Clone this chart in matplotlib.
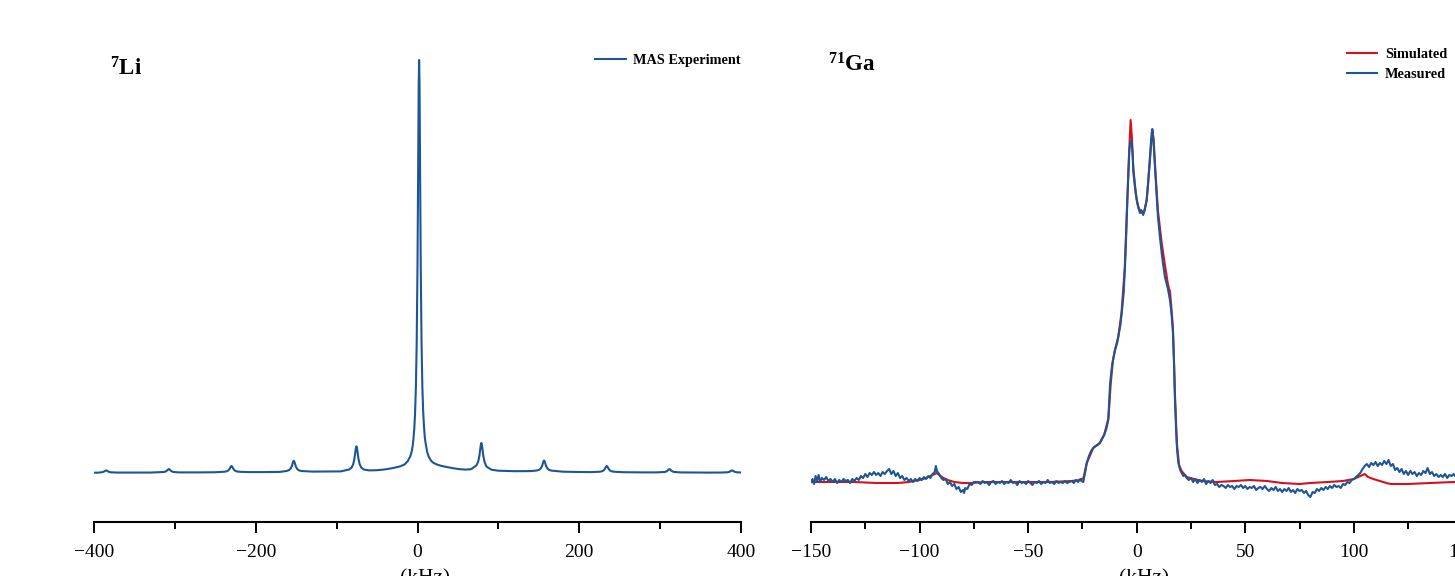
import matplotlib
matplotlib.use('Agg')
import matplotlib.pyplot as plt
from matplotlib.ticker import MultipleLocator, FixedLocator

plt.rcParams['font.family'] = ['Liberation Serif', 'DejaVu Serif']
plt.rcParams['mathtext.fontset'] = 'custom'
plt.rcParams['mathtext.rm'] = 'Liberation Serif'
plt.rcParams['mathtext.bf'] = 'Liberation Serif:bold'

# ---------------- data ----------------
# 7Li MAS spectrum (kHz, intensity in arbitrary units)
li_khz = [-400, -395, -391, -389, -387.5, -386.2, -385, -383.8, -382.5, -381, -379, -372, -350,
          -330, -313.5, -311.5, -310, -308.7, -307.5, -306.3, -305, -303.5, -301.5, -295, -270,
          -250, -239, -236, -234, -232.5, -231.6, -230.8, -230, -229.2, -228.4, -227.5, -226, -224,
          -221, -210, -190,
          -170, -162, -159, -157, -155.5, -154.6, -153.8, -153, -152.2, -151.4, -150.5, -149, -147,
          -144, -130, -110, -95,
          -84.5, -81.5, -79.5, -78, -77.1, -76.3, -75.5, -74.7, -73.9, -73, -71.5, -69.5, -66.5, -60,
          -50, -40, -30, -22, -16, -12, -9, -7, -6, -5, -4, -3, -2, -1, 0, 0.5, 1, 1.5,
          2, 2.5, 3, 3.5, 4, 5, 6, 7, 8, 9, 10, 12, 14, 17, 20, 24, 29, 36, 44, 52, 60, 66,
          70, 73, 75, 76.5, 77.4, 78.2, 79, 79.8, 80.6, 81.5, 83, 85, 88, 92, 100, 120, 140,
          147.5, 150.5, 152.5, 154, 154.9, 155.7, 156.5, 157.3, 158.1, 159, 160.5, 162.5, 165.5,
          180, 200,
          215, 225, 228, 230, 231.5, 232.4, 233.2, 234, 234.8, 235.6, 236.5, 238, 240, 243, 255, 280,
          295, 305.5, 307.5, 309, 310.3, 311.5, 312.7, 314, 315.5, 317.5, 325, 360,
          375, 383, 385, 386.5, 387.8, 389, 390.2, 391.5, 393, 395, 400]
li_int = [0.3, 0.35, 0.7, 1.0, 1.5, 2.2, 2.6, 2.2, 1.5, 1.0, 0.7, 0.45, 0.4,
          0.45, 1.0, 1.5, 2.25, 3.3, 4.0, 3.3, 2.25, 1.5, 1.0, 0.6, 0.6,
          0.75, 1.25, 1.7, 2.5, 3.9, 5.2, 6.4, 7.0, 6.4, 5.2, 3.9, 2.5, 1.7,
          1.25, 0.9, 0.9,
          1.1, 2.0, 2.8, 4.3, 6.7, 9.0, 11.2, 12.2, 11.2, 9.0, 6.7, 4.3, 2.8,
          2.0, 1.4, 1.5, 1.6,
          3.5, 5.4, 8.7, 14.2, 19.4, 24.4, 26.7, 24.4, 19.4, 14.2, 8.7, 5.4, 3.5, 2.6,
          2.8, 3.6, 5.0, 6.5, 8.5, 12.0, 16.5, 22.0, 27.0, 34.0, 44.0, 60.0, 86.0, 130.0, 207.0,
          264.0, 330.0, 389.0,
          413.0, 389.0, 330.0, 264.0, 207.0, 130.0, 86.0, 62.0, 47.0, 36.0, 30.0, 21.0, 16.0, 12.0,
          10.0, 8.5, 7.2, 6.0, 4.8, 3.8, 3.4, 3.8,
          5.9, 7.8, 11.3, 17.0, 22.4, 27.6, 30.0, 27.1, 21.9, 16.5, 10.8, 6.8, 4.9, 3.2, 2.3, 1.8,
          1.9,
          2.5, 3.2, 4.7, 7.0, 9.3, 11.5, 12.5, 11.5, 9.3, 7.0, 4.7, 3.2, 2.4,
          1.3, 1.0,
          0.9, 1.25, 1.7, 2.5, 3.9, 5.2, 6.4, 7.0, 6.4, 5.2, 3.9, 2.5, 1.7, 1.25, 0.8, 0.6,
          0.6, 1.0, 1.5, 2.25, 3.3, 4.0, 3.3, 2.25, 1.5, 1.0, 0.6, 0.4,
          0.45, 0.7, 1.0, 1.5, 2.2, 2.6, 2.2, 1.5, 1.0, 0.7, 0.5]

# 71Ga spectrum: simulated
ga_sim_khz = [-150, -140, -130, -120, -110, -105, -100, -97, -95, -93, -92, -91, -89, -87, -84, -80,
              -76, -70, -60, -50, -40, -30, -26, -24.5, -23, -20, -17, -15, -13, -12, -11, -10,
              -8.5, -7, -5.5, -4.3, -3.5, -2.8, -2.2, -1.5, -0.5, 0.5, 1.5, 2.5, 3.5, 4.6, 5.8,
              6.9, 7.3, 7.8, 8.5, 9.8, 11.5, 13, 14.3, 14.8, 15.3, 15.8, 16.7, 17.6, 18.5, 19.5,
              20.7, 23, 30, 37, 45, 52, 60, 67, 75, 80, 88, 95, 100, 103, 105, 106.5, 109, 112,
              115, 117, 125, 135, 146, 150]
ga_sim_int = [1, 1, 1, 0, 0, 1, 3, 5, 7, 9, 10, 8, 5, 3, 1, 0,
              0, 1, 1, 1, 1, 2, 3, 5, 20, 35, 40, 48, 65, 98, 122, 133,
              146, 170, 215, 285, 330, 363, 345, 310, 290, 278, 272, 270, 272, 283, 315,
              345, 352, 343, 316, 272, 240, 218, 200, 195, 192, 180, 155, 90, 40, 18,
              12, 6, 2, 1, 2, 3, 2, 0, -1, 0, 1, 2, 4, 7, 9, 6, 4, 2,
              0, -1, -1, 0, 1, 1]

# 71Ga spectrum: measured
ga_meas_khz = [-150, -149.3, -148.6, -147.9, -147.2, -146.5, -145.8, -145, -144, -143, -142, -141,
               -140, -139, -138, -137, -136, -135, -134, -133, -132, -131, -130, -129, -128, -127,
               -126, -125, -124, -123, -122, -121, -120, -119, -118, -117, -116, -115, -114, -113,
               -112, -111, -110, -109, -108, -107, -106, -105, -104, -103, -102, -101, -100, -99,
               -98, -97, -96, -95, -94, -93, -92.5, -92, -91, -90, -89, -88, -87, -86, -85, -84,
               -83, -82, -81, -80, -79.5, -79, -78, -77, -76, -75,
               -73, -72, -71, -70, -69, -68, -67, -66, -65, -64, -63, -62, -61, -60, -59, -58,
               -57, -56, -55, -54, -53, -52, -51, -50, -49, -48, -47, -46, -45, -44, -43, -42,
               -41, -40, -39, -38, -37, -36, -35, -34, -33, -32, -31, -30, -29, -28, -27, -26,
               -25.5, -24.6, -23.8, -23, -22, -21, -20, -19, -18, -17, -16, -15, -14, -13.1,
               -12.3, -11.5, -10.9, -10, -9, -8.5, -7.5, -6.9, -6, -5.4, -4.8, -4.3, -3.8, -3.4,
               -2.8, -2.3, -1.9, -1.6, -0.8, 0, 0.8, 1.5, 2, 2.4, 3, 3.8, 4.6, 5.2, 5.8, 6.4,
               6.9, 7.2, 7.7, 8.4, 9.1, 9.8, 10.6, 11.5, 12.2, 13, 13.7, 14.4, 15.3, 16, 16.7,
               17.2, 17.6, 18.1, 18.6, 19.2, 20, 20.7, 21.5, 22.3, 23,
               24, 25, 26, 27, 28, 29, 30, 31, 32, 33, 34, 35, 36, 37, 38, 39, 40, 41, 42, 43,
               44, 45, 46, 47, 48, 49, 50, 51, 52, 53, 54, 55, 56, 57, 58, 59, 60, 61, 62, 63,
               64, 65, 66, 67, 68, 69, 70, 71, 72, 73, 74, 75, 76, 77, 78, 79, 80, 81, 82, 83,
               84, 85, 86, 87, 88, 89, 90, 91, 92, 93, 94, 95, 96, 97, 98, 99, 100, 101, 102,
               103, 104, 105, 106, 107, 108, 109, 110, 111, 112, 113, 114, 115, 116, 117, 118,
               119, 120, 121, 122, 123, 124, 125, 126, 127, 128, 129, 130, 131, 132, 133, 134,
               135, 136, 137, 138, 139, 140, 141, 142, 143, 144, 145, 146, 147, 148, 149, 150]
ga_meas_int = [1, 4, -1, 7, 2, 8, 1, 5, 3, 6, 2, 4,
               1, 4, 0, 3, 1, 4, 2, 3, 0, 4, 2, 5, 3, 7,
               5, 9, 6, 10, 8, 11, 8, 10, 7, 11, 9, 12, 14, 9,
               12, 7, 10, 5, 7, 3, 5, 2, 4, 1, 4, 2, 5, 3,
               6, 4, 7, 5, 9, 11, 17, 12, 9, 5, 3, 4, -1, 1, -3, -1,
               -6, -4, -9, -7, -10, -5, -6, -1, -2, 1,
               1, -1, 2, 0, 1, -2, 1, 2, -1, 1, 0, 2, -1, 1, 0, 3,
               0, 1, -2, 2, 0, 1, -1, 2, 0, -2, 1, 0, 2, -1, 1, 0,
               3, 0, 1, -1, 2, 0, 1, 0, 2, 0, 1, 2, 0, 3, 1, 4,
               2, 1, 10, 20, 27, 32, 35, 37, 38, 40, 44, 48, 54, 63,
               98, 115, 123, 133, 140, 146, 158, 170, 190, 216, 250, 283, 310, 333,
               342, 341, 330, 316, 298, 283, 275, 270, 273, 272, 268, 274, 283, 298, 316, 336,
               350, 354, 343, 316, 290, 266, 248, 230, 218, 206, 200, 194, 183, 170, 150,
               120, 85, 55, 33, 20, 13, 10, 7, 8, 5,
               3, 5, 1, 4, 0, 3, 1, 4, -1, 2, 0, 3, -2, -1, -4, -2, -3, -5, -2, -4,
               -3, -6, -3, -4, -2, -5, -3, -6, -4, -5, -3, -7, -5, -4, -6, -3, -6, -8, -5, -7,
               -4, -8, -6, -9, -6, -8, -5, -9, -7, -10, -6, -8, -7, -10, -8, -12, -14, -9, -10, -6,
               -8, -5, -7, -4, -6, -3, -5, -2, -4, -3, -5, -1, -2, 1, 0, 3, 4, 6, 8,
               10, 14, 17, 19, 16, 20, 18, 21, 17, 20, 18, 22, 19, 23, 17, 19,
               13, 15, 11, 14, 9, 12, 8, 12, 9, 11, 7, 10, 8, 12, 10, 15,
               9, 11, 7, 9, 6, 8, 6, 9, 5, 8, 7, 9, 6, 8, 6, 7]

li_ticks = [-400, -200, 0, 200, 400]
ga_ticks = [-150, -100, -50, 0, 50, 100, 150]

BLUE = '#1d5595'
RED = '#d3121f'

# ---------------- figure ----------------
W, H = 1455, 576
fig = plt.figure(figsize=(W / 100, H / 100), dpi=100)


def px_axes(x0, x1, ytop, ybot):
    return fig.add_axes([x0 / W, 1 - ybot / H, (x1 - x0) / W, (ybot - ytop) / H])


ax1 = px_axes(94, 741, 40, 522)
ax2 = px_axes(811, 1462.4, 40, 522)

ax1.plot(li_khz, li_int, color=BLUE, lw=1.5, label='MAS Experiment')
ax1.set_xlim(-400, 400)
ax1.set_ylim(-49, 433)

ax2.plot(ga_sim_khz, ga_sim_int, color=RED, lw=1.5, label='Simulated')
ax2.plot(ga_meas_khz, ga_meas_int, color=BLUE, lw=1.5, label='Measured')
ax2.set_xlim(-150, 150)
ax2.set_ylim(-39, 443)

for ax, ticks, minor, lx in ((ax1, li_ticks, 100, 0.512), (ax2, ga_ticks, 25, 0.511)):
    for s in ('top', 'left', 'right'):
        ax.spines[s].set_visible(False)
    ax.spines['bottom'].set_linewidth(1.5)
    ax.set_yticks([])
    ax.xaxis.set_major_locator(FixedLocator(ticks))
    ax.xaxis.set_minor_locator(MultipleLocator(minor))
    ax.tick_params(axis='x', which='major', direction='out', length=8, width=1.4,
                   labelsize=14, pad=8)
    ax.tick_params(axis='x', which='minor', direction='out', length=5, width=1.4)
    ax.set_xlabel('(kHz)', fontsize=15.5, va='top')
    ax.xaxis.set_label_coords(lx, -0.097)
    ax.patch.set_alpha(0)

fig.text(110 / W, 1 - 76 / H, r'$\mathbf{^{7}Li}$', fontsize=16.5, ha='left', va='baseline')
fig.text(828 / W, 1 - 72 / H, r'$\mathbf{^{71}Ga}$', fontsize=16.5, ha='left', va='baseline')

leg_kw = dict(frameon=False, prop={'weight': 'bold', 'size': 10.3}, handlelength=2.1,
              handletextpad=0.55, borderaxespad=0, borderpad=0)
ax1.legend(loc='upper right', bbox_to_anchor=(741 / W, 1 - 54 / H),
           bbox_transform=fig.transFigure, labelspacing=0.3, **leg_kw)
ax2.legend(loc='upper left', bbox_to_anchor=(1347 / W, 1 - 48 / H),
           bbox_transform=fig.transFigure, labelspacing=0.5, **leg_kw)

fig.savefig('out.png', dpi=100)
